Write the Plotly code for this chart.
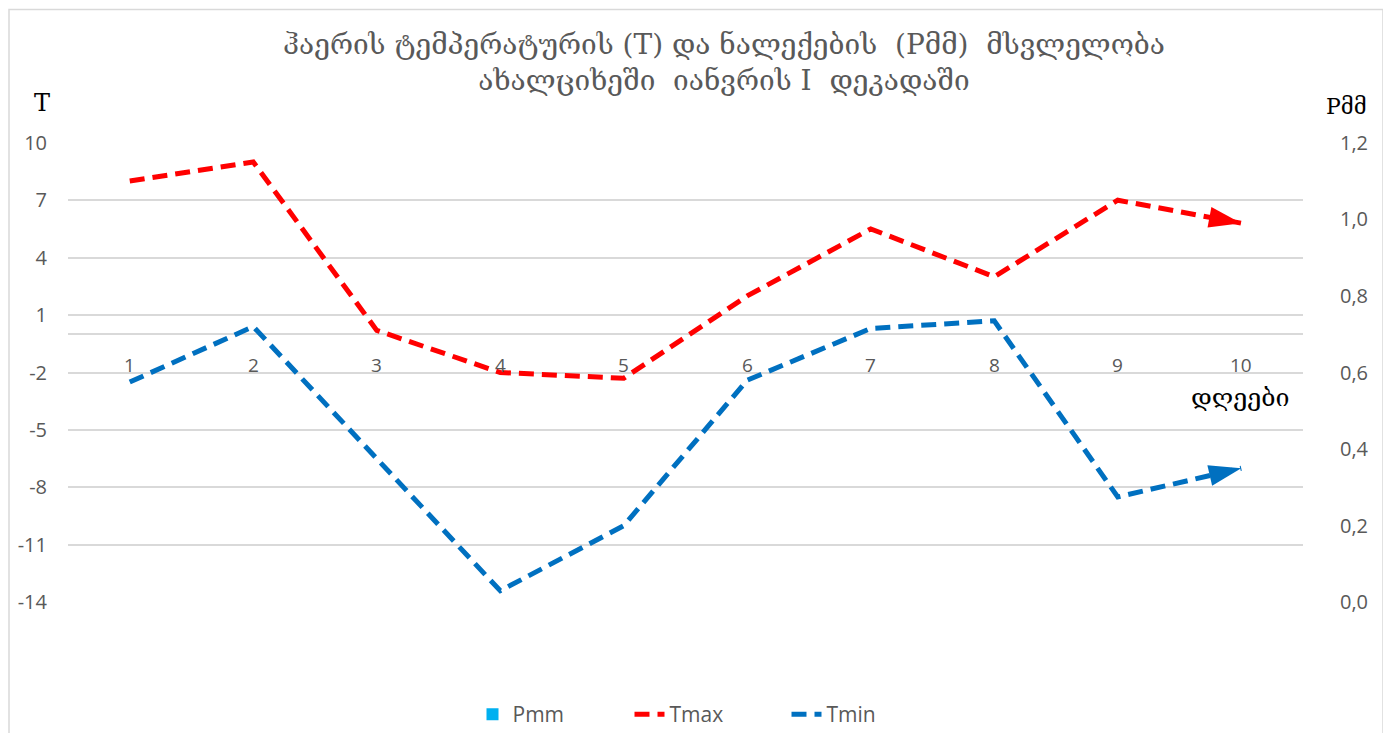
import plotly.graph_objects as go

days = ["1", "2", "3", "4", "5", "6", "7", "8", "9", "10"]
tmax = [8.0, 9.0, 0.2, -2.0, -2.3, 2.0, 5.5, 3.0, 7.0, 5.8]
tmin = [-2.5, 0.4, -6.5, -13.4, -10.0, -2.4, 0.3, 0.7, -8.5, -7.0]
pmm = [0, 0, 0, 0, 0, 0, 0, 0, 0, 0]

t_ticks = [-14, -11, -8, -5, -2, 1, 4, 7, 10]
t_ticktext = ["-14", "-11", "-8", "-5", "-2", "1", "4", "7", "10"]
p_ticks = [0.0, 0.2, 0.4, 0.6, 0.8, 1.0, 1.2]
p_ticktext = ["0,0", "0,2", "0,4", "0,6", "0,8", "1,0", "1,2"]

title_text = "ჰაერის ტემპერატურის (T) და ნალექების  (Pმმ)  მსვლელობა<br>ახალციხეში  იანვრის I  დეკადაში"

RED = "#FF0000"
BLUE = "#0070C0"
GRID = "#D9D9D9"
TICK = "#595959"

fig = go.Figure()

fig.add_trace(go.Bar(
    x=days, y=pmm, name="Pmm", yaxis="y2",
    marker=dict(color="#00B0F0", line=dict(width=0)),
))

def arrow_sizes(n, size):
    return [0] * (n - 1) + [size]

for name, vals, col in [("Tmax", tmax, RED), ("Tmin", tmin, BLUE)]:
    fig.add_trace(go.Scatter(
        x=days, y=vals, name=name, mode="lines",
        line=dict(color=col, width=5, dash="15px,8px"),
        legendgroup=name,
    ))
    fig.add_trace(go.Scatter(
        x=days, y=vals, name=name, mode="markers",
        marker=dict(symbol="arrow", angleref="previous", opacity=1,
                    size=arrow_sizes(len(vals), 34), color=col,
                    line=dict(width=0)),
        legendgroup=name, showlegend=False, hoverinfo="skip",
    ))

W, H = 1391, 733
OFF = 8  # page body margin of the html output
# plot area in page pixels
PX0, PX1, PY0, PY1 = 68, 1303, 141.7, 603.3
L = PX0 - OFF
R = W - (PX1 - OFF)
T = PY0 - OFF
B = H - (PY1 - OFF)
pw = PX1 - PX0
ph = PY1 - PY0

def px(x):
    return (x - PX0) / pw

def py(y):
    return (PY1 - y) / ph

# category labels placed at the T=0 axis line
day_labels = [
    dict(text=d, x=i, y=0, xref="x", yref="y", showarrow=False,
         xanchor="center", yanchor="top", yshift=-16,
         font=dict(family="Open Sans, Noto Sans", size=19, color=TICK))
    for i, d in enumerate(days)
]

fig.update_layout(
    width=W, height=H,
    autosize=False,
    margin=dict(l=L, r=R, t=T, b=B, autoexpand=False),
    paper_bgcolor="white", plot_bgcolor="white",
    title=dict(text=title_text, x=(724 - OFF) / W, xref="container", xanchor="center",
               y=1 - 46 / H, yref="container", yanchor="middle",
               font=dict(family="DejaVu Serif, DejaVu Sans", size=28, color=TICK)),
    showlegend=True,
    legend=dict(orientation="h", x=(708 - OFF) / W, xref="container", xanchor="center",
                y=py(715), yanchor="middle", entrywidth=112,
                font=dict(family="Open Sans, Noto Sans", size=21, color=TICK)),
    xaxis=dict(
        type="category", domain=[0, 1], range=[-0.5, len(days) - 0.5],
        showgrid=False, showline=False, ticks="", showticklabels=False,
    ),
    yaxis=dict(
        range=[-14.04, 10.04], tickvals=t_ticks, ticktext=t_ticktext,
        domain=[0, 1],
        showgrid=True, gridcolor=GRID, gridwidth=1.5,
        zeroline=True, zerolinecolor=GRID, zerolinewidth=1.5,
        showline=False, ticks="",
        tickfont=dict(family="Open Sans, Noto Sans", size=20, color=TICK),
        ticklabelstandoff=20,
    ),
    yaxis2=dict(
        range=[-0.002, 1.202], tickvals=p_ticks, ticktext=p_ticktext,
        overlaying="y", side="right", showgrid=False, zeroline=False,
        showline=False, ticks="",
        tickfont=dict(family="Open Sans, Noto Sans", size=20, color=TICK),
        ticklabelstandoff=36,
    ),
    annotations=day_labels + [
        dict(text="T", x=px(42), y=py(103), xref="paper", yref="paper",
             showarrow=False, xanchor="center", yanchor="middle",
             font=dict(family="DejaVu Serif", size=24, color="black")),
        dict(text="Pმმ", x=px(1346), y=py(106), xref="paper", yref="paper",
             showarrow=False, xanchor="center", yanchor="middle",
             font=dict(family="DejaVu Serif", size=22, color="black")),
        dict(text="დღეები", x=px(1240), y=py(398), xref="paper", yref="paper",
             showarrow=False, xanchor="center", yanchor="middle",
             font=dict(family="DejaVu Serif, DejaVu Sans", size=25, color="black")),
    ],
    shapes=[
        dict(type="rect", xref="paper", yref="paper",
             x0=px(9), x1=px(1383), y0=py(745), y1=py(9),
             line=dict(color="#D9D9D9", width=1.5), fillcolor="rgba(0,0,0,0)",
             layer="below"),
    ],
)

fig.write_html("out.html")
